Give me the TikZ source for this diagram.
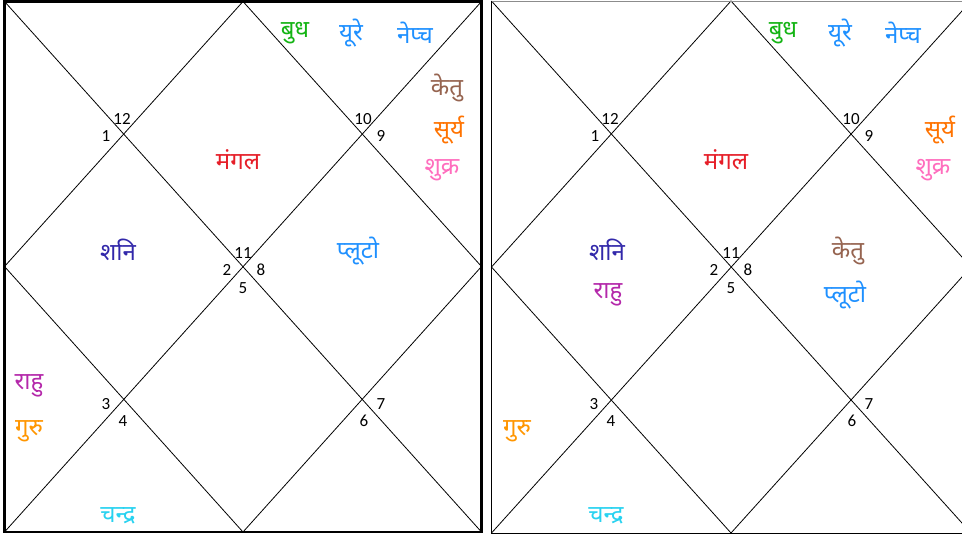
\documentclass[tikz,border=0pt]{standalone}
\usepackage{fontspec}
\setmainfont{Carlito}
\newfontfamily\dev[Script=Devanagari]{Noto Sans}
\definecolor{cgreen}{RGB}{20,180,20}
\definecolor{cblue}{RGB}{30,144,255}
\definecolor{cbrown}{RGB}{150,100,80}
\definecolor{corange}{RGB}{255,115,0}
\definecolor{cpink}{RGB}{255,110,190}
\definecolor{cred}{RGB}{230,30,40}
\definecolor{cindigo}{RGB}{50,40,170}
\definecolor{cmagenta}{RGB}{180,40,170}
\definecolor{cgold}{RGB}{255,150,0}
\definecolor{ccyan}{RGB}{40,210,240}
\tikzset{
  num/.style={font=\fontsize{17}{17}\selectfont, inner sep=0pt},
  planet/.style={font=\dev\fontsize{24}{24}\selectfont, inner sep=0pt, yshift=-3pt},
  grid/.style={line width=0.8pt, black},
}
\begin{document}
\begin{tikzpicture}[x=1pt,y=-1pt]
\useasboundingbox (0,0) rectangle (962,536);
\fill[white] (0,0) rectangle (962,536);
% ---------- left chart ----------
\coordinate (LA) at (4.5,1.5);
\coordinate (LB) at (481.5,1.5);
\coordinate (LC) at (481.5,532);
\coordinate (LD) at (4.5,532);
\coordinate (LT) at (243,1.5);
\coordinate (LR) at (481.5,266.5);
\coordinate (LBm) at (243,532);
\coordinate (LL) at (4.5,266.5);
\draw[grid] (LA) -- (LC);
\draw[grid] (LB) -- (LD);
\draw[grid] (LT) -- (LR) -- (LBm) -- (LL) -- cycle;
\draw[line width=2.6pt] (LA) rectangle (LC);
% numbers
\node[num] (l12) at (122,119) {12};
\node[num] (l1) at (106,136) {1};
\node[num] (l10) at (363,119) {10};
\node[num] (l9) at (381,136) {9};
\node[num] (l11) at (243,253) {11};
\node[num] (l2) at (227,270) {2};
\node[num] (l8) at (261,270) {8};
\node[num] (l5) at (243,288) {5};
\node[num] (l3) at (106,404) {3};
\node[num] (l4) at (123,421) {4};
\node[num] (l7) at (381,404) {7};
\node[num] (l6) at (364,421) {6};
% planets
\node[planet, text=cgreen] (lbudh) at (295,30) {बुध};
\node[planet, text=cblue] (lure) at (351,30) {यूरे};
\node[planet, text=cblue] (lnep) at (415,30) {नेप्च};
\node[planet, text=cbrown] (lketu) at (447,85) {केतु};
\node[planet, text=corange] (lsurya) at (449,127) {सूर्य};
\node[planet, text=cpink] (lshukra) at (442,167) {शुक्र};
\node[planet, text=cred] (lmangal) at (238,157) {मंगल};
\node[planet, text=cindigo] (lshani) at (118,247) {शनि};
\node[planet, text=cblue] (lpluto) at (358,248) {प्लूटो};
\node[planet, text=cmagenta] (lrahu) at (29,383) {राहु};
\node[planet, text=cgold] (lguru) at (29,428) {गुरु};
\node[planet, text=ccyan] (lchandra) at (118,513) {चन्द्र};
% ---------- right chart ----------
\coordinate (RA) at (491.5,1);
\coordinate (RB) at (971,1);
\coordinate (RC) at (971,533);
\coordinate (RD) at (491.5,533);
\coordinate (RT) at (731,1);
\coordinate (RR) at (971,267);
\coordinate (RBm) at (731,533);
\coordinate (RL) at (491.5,267);
\draw[grid] (RA) -- (RC);
\draw[grid] (RB) -- (RD);
\draw[grid] (RT) -- (RR) -- (RBm) -- (RL) -- cycle;
\draw[line width=0.8pt, black!45] (RA) -- (RB);
\draw[line width=0.9pt] (RA) -- (RD) -- (RC);
% numbers
\node[num] (r12) at (610,119) {12};
\node[num] (r1) at (595,136) {1};
\node[num] (r10) at (851,119) {10};
\node[num] (r9) at (869,136) {9};
\node[num] (r11) at (731,253) {11};
\node[num] (r2) at (714,270) {2};
\node[num] (r8) at (748,270) {8};
\node[num] (r5) at (731,288) {5};
\node[num] (r3) at (594,404) {3};
\node[num] (r4) at (611,421) {4};
\node[num] (r7) at (869,404) {7};
\node[num] (r6) at (852,421) {6};
% planets
\node[planet, text=cgreen] (rbudh) at (783,30) {बुध};
\node[planet, text=cblue] (rure) at (840,30) {यूरे};
\node[planet, text=cblue] (rnep) at (903,30) {नेप्च};
\node[planet, text=corange] (rsurya) at (940,127) {सूर्य};
\node[planet, text=cpink] (rshukra) at (933,167) {शुक्र};
\node[planet, text=cred] (rmangal) at (726,157) {मंगल};
\node[planet, text=cindigo] (rshani) at (607,247) {शनि};
\node[planet, text=cmagenta] (rrahu) at (608,292) {राहु};
\node[planet, text=cbrown] (rketu) at (848,248) {केतु};
\node[planet, text=cblue] (rpluto) at (845,292) {प्लूटो};
\node[planet, text=cgold] (rguru) at (517,428) {गुरु};
\node[planet, text=ccyan] (rchandra) at (606,513) {चन्द्र};
\end{tikzpicture}
\end{document}
